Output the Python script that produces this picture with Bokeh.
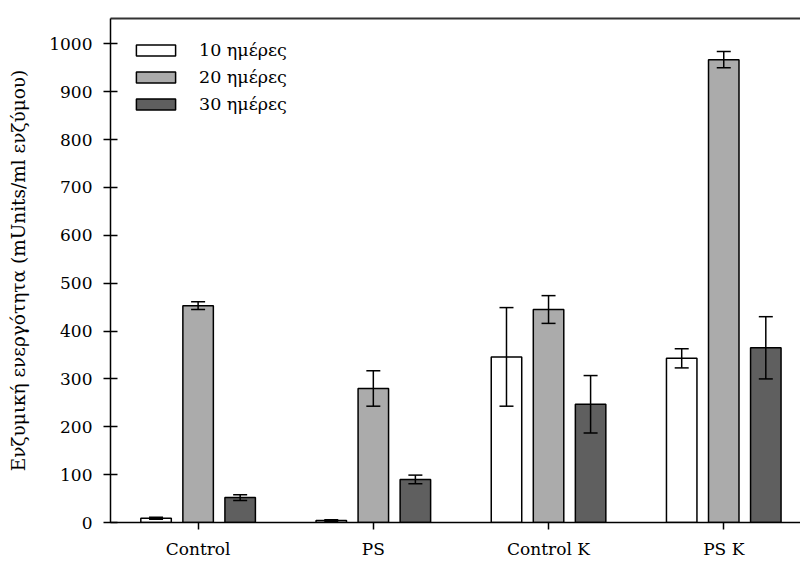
from bokeh.plotting import figure
from bokeh.models import (ColumnDataSource, FixedTicker, LinearAxis, Range1d,
                          Whisker, TeeHead, Legend, LegendItem)
from bokeh.embed import file_html
from bokeh.resources import INLINE

# Enzyme activity per treatment, three sampling times (mean and error)
categories = ["Control", "PS", "Control K", "PS K"]
series_labels = ["10 ημέρες", "20 ημέρες", "30 ημέρες"]
days10 = [9, 4, 346, 343]
err10 = [2, 2, 103, 20]
days20 = [453, 280, 445, 967]
err20 = [8, 37, 29, 17]
days30 = [52, 90, 247, 365]
err30 = [6, 9, 60, 65]
y_ticks = [0, 100, 200, 300, 400, 500, 600, 700, 800, 900, 1000]

FONT = "DejaVu Serif"
fills = ["#ffffff", "#ababab", "#5f5f5f"]
offsets = [-0.24, 0.0, 0.24]
bar_w = 0.174

positions = list(range(1, len(categories) + 1))

p = figure(width=800, height=561, output_backend="svg", toolbar_location=None,
           x_range=Range1d(0.5, 4.438), y_range=Range1d(0, 1053),
           min_border_left=110, min_border_right=0, min_border_top=18,
           min_border_bottom=39)
p.outline_line_color = None
p.grid.visible = False
p.background_fill_color = "white"
p.border_fill_color = "white"

items = []
for vals, errs, fill, off, lab in zip([days10, days20, days30], [err10, err20, err30],
                                      fills, offsets, series_labels):
    xs = [c + off for c in positions]
    src = ColumnDataSource(dict(x=xs, top=vals,
                                upper=[v + e for v, e in zip(vals, errs)],
                                lower=[v - e for v, e in zip(vals, errs)]))
    r = p.vbar(x="x", top="top", width=bar_w, source=src, fill_color=fill,
               line_color="black", line_width=1.5)
    items.append(LegendItem(label=lab, renderers=[r]))
    w = Whisker(source=src, base="x", upper="upper", lower="lower",
                dimension="height", line_color="black", line_width=1.5,
                level="overlay",
                upper_head=TeeHead(size=14, line_color="black", line_width=1.5),
                lower_head=TeeHead(size=14, line_color="black", line_width=1.5))
    p.add_layout(w)

# x axis: one tick per treatment
p.xaxis.ticker = FixedTicker(ticks=positions)
p.xaxis.major_label_overrides = {c: n for c, n in zip(positions, categories)}
p.xaxis.major_tick_in = 0
p.xaxis.major_tick_out = 7
p.xaxis.minor_tick_line_color = None
p.xaxis.major_label_standoff = 9

# y axis: ticks crossing the axis line
p.yaxis.ticker = FixedTicker(ticks=y_ticks)
p.yaxis.major_tick_in = 7
p.yaxis.major_tick_out = 7
p.yaxis.minor_tick_line_color = None
p.yaxis.major_label_standoff = 11
p.yaxis.axis_label = "Ενζυμική ενεργότητα (mUnits/ml ενζύμου)"
p.yaxis.axis_label_standoff = 17

for ax in [p.xaxis[0], p.yaxis[0]]:
    ax.axis_line_color = "black"
    ax.axis_line_width = 1.5
    ax.major_tick_line_color = "black"
    ax.major_tick_line_width = 1.5
    ax.major_label_text_font = FONT
    ax.major_label_text_font_size = "17px"
    ax.major_label_text_color = "black"
    ax.axis_label_text_font = FONT
    ax.axis_label_text_font_size = "18.5px"
    ax.axis_label_text_font_style = "normal"
    ax.axis_label_text_color = "black"

# top border line
top = LinearAxis(ticker=FixedTicker(ticks=[]), axis_line_color="#333333",
                 axis_line_width=2, major_tick_line_color=None,
                 minor_tick_line_color=None, major_label_text_font_size="0px")
p.add_layout(top, "above")

legend = Legend(items=items, location="top_left", margin=21, padding=10,
                glyph_width=49, glyph_height=14, label_height=22, spacing=5,
                label_standoff=19, label_text_font=FONT,
                label_text_font_size="17.5px", label_text_color="black",
                border_line_color=None, background_fill_alpha=0)
p.add_layout(legend)

open("out.html", "w").write(file_html(p, INLINE))
